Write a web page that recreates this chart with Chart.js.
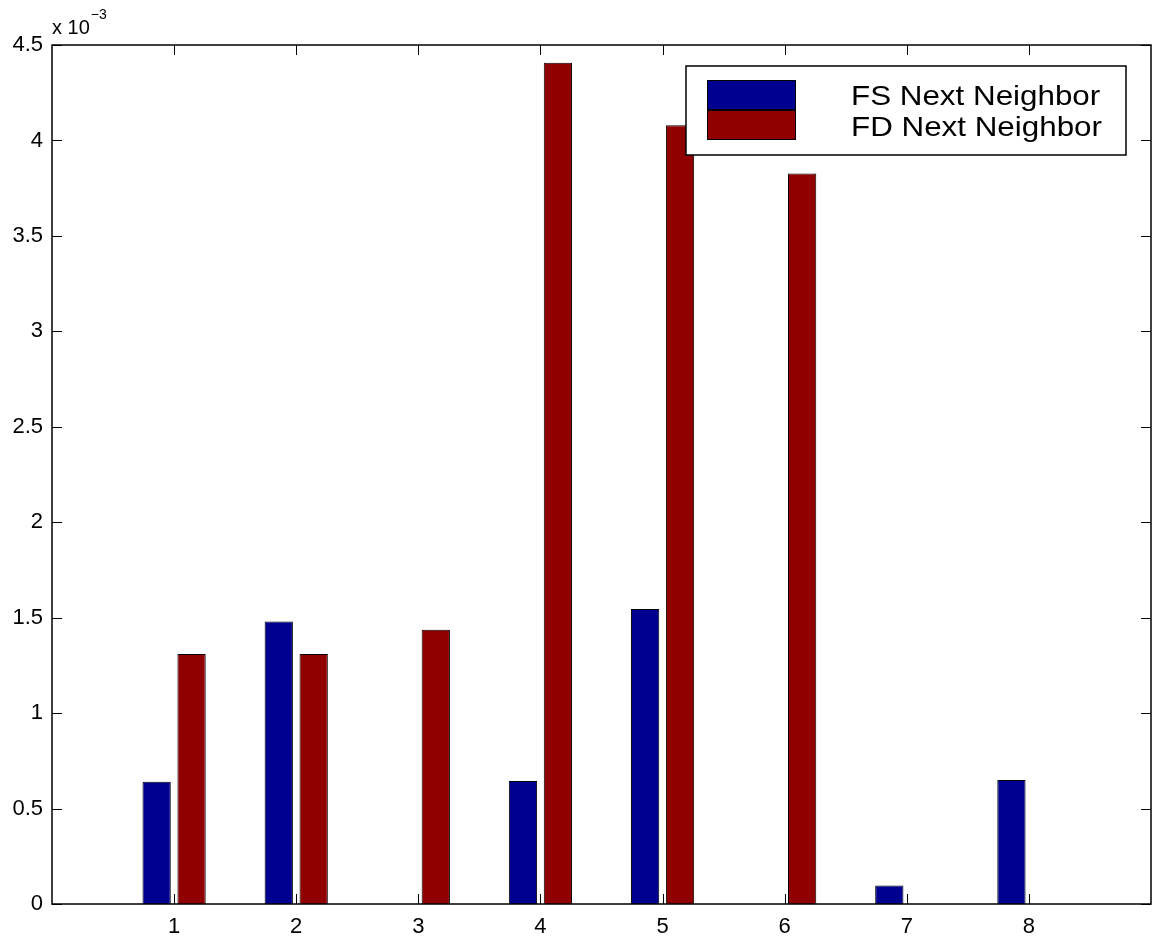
<!DOCTYPE html>
<html>
<head>
<meta charset="utf-8">
<script src="https://cdn.jsdelivr.net/npm/chart.js@4"></script>
<style>
  html, body { margin: 0; padding: 0; background: #fff; }
</style>
</head>
<body>
<canvas id="chart" width="1153" height="938"></canvas>
<script>
// values (axis is x 10^-3)
const categories = [1, 2, 3, 4, 5, 6, 7, 8];
const fsValues = [0.00064, 0.00148, 0, 0.000645, 0.001545, 0, 0.0000975, 0.00065];
const fdValues = [0.00131, 0.00131, 0.001437, 0.004407, 0.00408, 0.003827, 0, 0];
const seriesNames = ["FS Next Neighbor", "FD Next Neighbor"];
const seriesColors = ["#000090", "#900000"];
const yTicks = [0, 0.0005, 0.001, 0.0015, 0.002, 0.0025, 0.003, 0.0035, 0.004, 0.0045];

const FONT = "'Liberation Sans', Arial, Helvetica, sans-serif";

// MATLAB style box, inward ticks, exponent label and legend
const matlabAxes = {
  id: "matlabAxes",
  afterDatasetsDraw(chart) {
    const { ctx, chartArea: a, scales } = chart;
    const tickLen = 10;
    ctx.save();
    ctx.strokeStyle = "#000";
    ctx.lineWidth = 1;
    ctx.beginPath();
    scales.x.ticks.forEach((t) => {
      const px = Math.round(scales.x.getPixelForValue(t.value)) + 0.5;
      ctx.moveTo(px, a.bottom);
      ctx.lineTo(px, a.bottom - tickLen);
      ctx.moveTo(px, a.top);
      ctx.lineTo(px, a.top + tickLen);
    });
    scales.y.ticks.forEach((t) => {
      const py = Math.round(scales.y.getPixelForValue(t.value)) + 0.5;
      ctx.moveTo(a.left, py);
      ctx.lineTo(a.left + tickLen, py);
      ctx.moveTo(a.right, py);
      ctx.lineTo(a.right - tickLen, py);
    });
    ctx.stroke();

    ctx.lineWidth = 1.5;
    ctx.strokeRect(a.left, a.top, a.right - a.left, a.bottom - a.top);

    // exponent label
    ctx.fillStyle = "#000";
    ctx.textBaseline = "alphabetic";
    ctx.textAlign = "left";
    ctx.font = "20px " + FONT;
    ctx.fillText("x 10", a.left, a.top - 11);
    const w = ctx.measureText("x 10").width;
    ctx.font = "14px " + FONT;
    ctx.fillText("\u22123", a.left + w + 1, a.top - 26);

    // legend
    const lw = 440, lh = 89;
    const lx = a.right - 25 - lw, ly = a.top + 21;
    ctx.fillStyle = "#fff";
    ctx.fillRect(lx, ly, lw, lh);
    ctx.lineWidth = 1.5;
    ctx.strokeRect(lx, ly, lw, lh);
    ctx.lineWidth = 1;
    seriesNames.forEach((name, i) => {
      const sy = ly + 14 + i * 30;
      ctx.fillStyle = seriesColors[i];
      ctx.fillRect(lx + 21, sy, 89, 30);
      ctx.strokeStyle = "#000";
      ctx.strokeRect(lx + 21.5, sy + 0.5, 88, 29);
      ctx.fillStyle = "#000";
      ctx.font = "28px " + FONT;
      ctx.save();
      ctx.translate(lx + 165, ly + 39 + i * 31);
      ctx.scale(1.12, 1);
      ctx.fillText(name, 0, 0);
      ctx.restore();
    });
    ctx.restore();
  },
};

const datasets = [fsValues, fdValues].map((vals, i) => ({
  label: seriesNames[i],
  data: categories.map((c, j) => ({ x: c, y: vals[j] })),
  backgroundColor: seriesColors[i],
  borderColor: "#000",
  borderWidth: 1,
  categoryPercentage: 0.572,
  barPercentage: 0.81,
}));

new Chart(document.getElementById("chart"), {
  type: "bar",
  data: { datasets },
  options: {
    responsive: false,
    devicePixelRatio: 1,
    animation: false,
    layout: { padding: { top: 45, right: 2, left: 0, bottom: 0 } },
    plugins: { legend: { display: false }, tooltip: { enabled: false } },
    scales: {
      x: {
        type: "linear",
        offset: false,
        min: 0,
        max: 9,
        afterBuildTicks: (axis) => {
          axis.ticks = categories.map((v) => ({ value: v }));
        },
        afterFit: (axis) => { axis.height = 34; },
        grid: { display: false, drawTicks: false, offset: false },
        border: { display: false },
        ticks: {
          color: "#000",
          padding: 10,
          maxRotation: 0,
          autoSkip: false,
          font: { family: FONT, size: 22 },
          callback: (v) => String(v),
        },
      },
      y: {
        min: 0,
        max: 0.0045,
        afterBuildTicks: (axis) => {
          axis.ticks = yTicks.map((v) => ({ value: v }));
        },
        afterFit: (axis) => { axis.width = 52; },
        grid: { display: false, drawTicks: false },
        border: { display: false },
        ticks: {
          color: "#000",
          padding: 9,
          autoSkip: false,
          font: { family: FONT, size: 22 },
          callback: (v) => String(+(v * 1000).toFixed(1)),
        },
      },
    },
  },
  plugins: [matlabAxes],
});
</script>
</body>
</html>
